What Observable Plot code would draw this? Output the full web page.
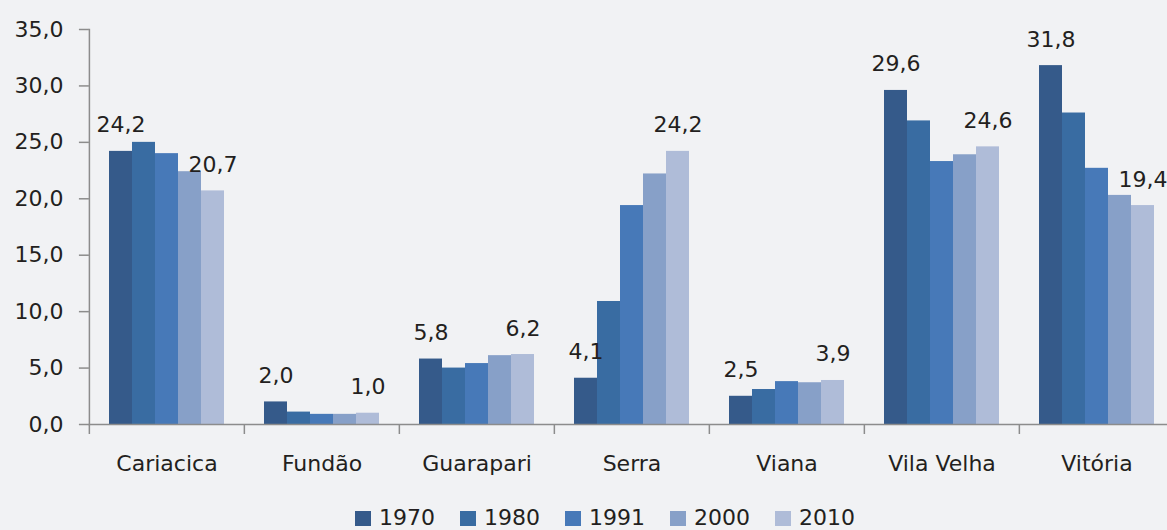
<!DOCTYPE html>
<html>
<head>
<meta charset="utf-8">
<script src="https://cdn.jsdelivr.net/npm/d3@7"></script>
<script src="https://cdn.jsdelivr.net/npm/@observablehq/plot@0.6"></script>
<style>
  html, body { margin: 0; padding: 0; background: #f1f2f4; }
  #chart { width: 1167px; height: 530px; overflow: hidden; font-family: "DejaVu Sans", sans-serif; color: #231f20; }
  #legend { height: 40px; display: flex; align-items: center; padding-top: 16px; padding-left: 355px; box-sizing: border-box; font-size: 22px; line-height: 1; }
  .item { display: flex; align-items: center; margin-right: 25px; }
  .sw { width: 16px; height: 15px; margin-right: 8px; }
</style>
</head>
<body>
<div id="chart"></div>
<script>
const municipios = ["Cariacica", "Fundão", "Guarapari", "Serra", "Viana", "Vila Velha", "Vitória"];
const anos = ["1970", "1980", "1991", "2000", "2010"];
const v1970 = [24.2, 2.0, 5.8, 4.1, 2.5, 29.6, 31.8];
const v1980 = [25.0, 1.1, 5.0, 10.9, 3.1, 26.9, 27.6];
const v1991 = [24.0, 0.9, 5.4, 19.4, 3.8, 23.3, 22.7];
const v2000 = [22.4, 0.9, 6.1, 22.2, 3.7, 23.9, 20.3];
const v2010 = [20.7, 1.0, 6.2, 24.2, 3.9, 24.6, 19.4];
const cores = ["#355a8a", "#396ca2", "#4779b8", "#87a0c8", "#afbcd8"];
const yTicks = [0, 5, 10, 15, 20, 25, 30, 35];
const anosRotulados = ["1970", "2010"];

const series = [v1970, v1980, v1991, v2000, v2010];
const dados = municipios.flatMap((m, i) => anos.map((a, j) => ({municipio: m, ano: a, valor: series[j][i]})));
const rotulos = dados.filter(d => anosRotulados.includes(d.ano));
const fmt = v => v.toFixed(1).replace(".", ",");

const W = 1167, H = 490, ML = 88, MT = 29, MB = 66;
const fxRange = [ML, 1175];
const padIn = 0.233;
const step = (fxRange[1] - fxRange[0]) / municipios.length;
const outerOffset = step * padIn / 2;
const axisGray = "#8c8c8c";

const chart = Plot.plot({
  width: W,
  height: H,
  marginLeft: ML,
  marginRight: 0,
  marginTop: MT,
  marginBottom: MB,
  style: {background: "transparent", fontFamily: "DejaVu Sans, sans-serif", fontSize: "22px", color: "#231f20", overflow: "visible"},
  fx: {domain: municipios, range: fxRange, paddingInner: padIn, paddingOuter: padIn / 2, label: null},
  x: {domain: anos, padding: 0, axis: null},
  y: {domain: [0, 35], axis: null},
  color: {domain: anos, range: cores},
  marks: [
    Plot.barY(dados, {fx: "municipio", x: "ano", y: "valor", fill: "ano"}),
    Plot.text(rotulos, {fx: "municipio", x: "ano", y: "valor", text: d => fmt(d.valor), dy: -19, lineAnchor: "bottom", fill: "#231f20", fontSize: 22}),
    Plot.frame({anchor: "left", facet: "super", insetLeft: -outerOffset, stroke: axisGray, strokeWidth: 1.5}),
    Plot.frame({anchor: "bottom", facet: "super", insetLeft: -outerOffset, insetRight: -outerOffset - 10, stroke: axisGray, strokeWidth: 1.5}),
    Plot.axisY({ticks: yTicks, tickFormat: fmt, tickSize: 10, tickPadding: 16, dx: -outerOffset, stroke: axisGray, strokeWidth: 1.5, fill: "#231f20", label: null}),
    Plot.axisFx({anchor: "bottom", tickSize: 0, tickPadding: 31, fill: "#231f20", label: null}),
    Plot.axisFx({anchor: "bottom", tickSize: 10, tickFormat: () => "", dx: -step / 2, stroke: axisGray, strokeWidth: 1.5, label: null})
  ]
});

const root = document.getElementById("chart");
root.appendChild(chart);

const legend = document.createElement("div");
legend.id = "legend";
anos.forEach((a, i) => {
  const it = document.createElement("div");
  it.className = "item";
  const sw = document.createElement("div");
  sw.className = "sw";
  sw.style.background = cores[i];
  const t = document.createElement("span");
  t.textContent = a;
  it.appendChild(sw);
  it.appendChild(t);
  legend.appendChild(it);
});
root.appendChild(legend);
</script>
</body>
</html>
